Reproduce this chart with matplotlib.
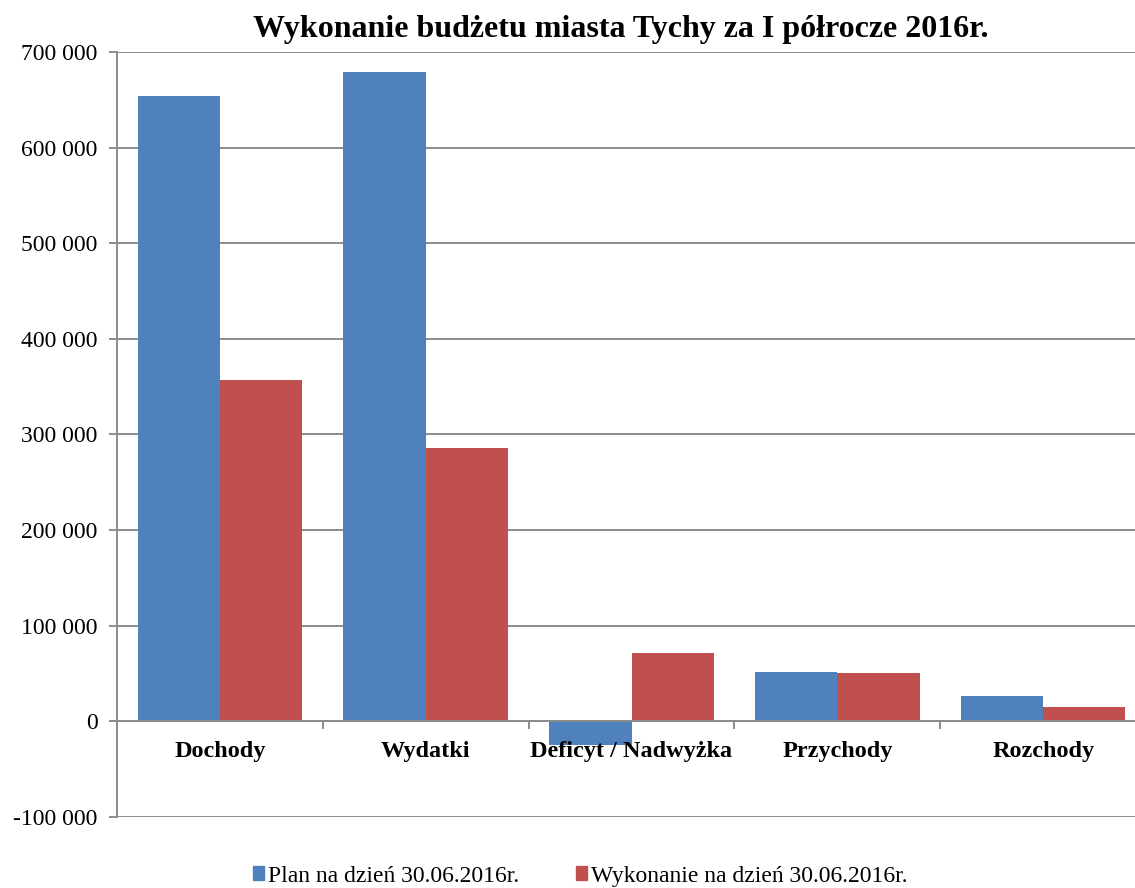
import numpy as np
import matplotlib.pyplot as plt
from matplotlib.ticker import FuncFormatter
from matplotlib.patches import Patch

plt.rcParams['font.family'] = ['Liberation Serif', 'DejaVu Serif']

categories = ['Dochody', 'Wydatki', 'Deficyt / Nadwyżka', 'Przychody', 'Rozchody']
plan = [654000, 679000, -24700, 51700, 26600]
wykonanie = [357000, 286000, 71200, 51000, 15100]
series_names = ['Plan na dzień 30.06.2016r.', 'Wykonanie na dzień 30.06.2016r.']
yticks = np.arange(-100000, 700001, 100000)

blue = '#4F81BD'
red = '#C0504D'
grid_col = '#8C8C8C'

fig = plt.figure(figsize=(11.35, 8.88), dpi=100)
ax = fig.add_axes([117 / 1135, 1 - 817 / 888, (1146 - 117) / 1135, (817 - 52) / 888])
ax.set_axisbelow(True)

x = np.arange(len(categories))
w = 0.4
ax.bar(x - w / 2, plan, w, color=blue, zorder=3)
ax.bar(x + w / 2, wykonanie, w, color=red, zorder=3)

ax.set_xlim(-0.5, len(categories) - 0.5)
ax.set_ylim(-100000, 700000)
ax.set_yticks(yticks)
ax.yaxis.set_major_formatter(FuncFormatter(lambda v, p: f'{int(v):,}'.replace(',', ' ')))
ax.yaxis.grid(True, color=grid_col, linewidth=1.4)

ax.set_xticks(np.arange(-0.5, len(categories), 1.0))
ax.set_xticklabels([])
ax.tick_params(axis='x', length=6, width=1.4, color=grid_col, direction='out')
ax.tick_params(axis='y', length=6, width=1.4, color=grid_col, labelsize=17, pad=8)

# category labels drawn as text so they sit above the bars
for i, name in enumerate(categories):
    ax.annotate(name, xy=(i, 0), xytext=(0, -22), textcoords='offset points',
                ha='center', va='center', fontsize=17.5, fontweight='bold', zorder=6)

for s in ['top', 'right']:
    ax.spines[s].set_visible(False)
ax.spines['bottom'].set_position(('data', 0))
ax.spines['bottom'].set_color(grid_col)
ax.spines['bottom'].set_linewidth(1.4)
ax.spines['bottom'].set_zorder(4)
ax.spines['left'].set_color(grid_col)
ax.spines['left'].set_linewidth(1.4)

fig.text(621 / 1135, 1 - 30 / 888, 'Wykonanie budżetu miasta Tychy za I półrocze 2016r.',
         ha='center', va='center', fontsize=23, fontweight='bold')

handles = [Patch(color=blue), Patch(color=red)]
fig.legend(handles, series_names, loc='center', bbox_to_anchor=(580 / 1135, 1 - 876 / 888),
           ncol=2, frameon=False, fontsize=17, handlelength=0.5, handleheight=0.5,
           handletextpad=0.15, columnspacing=2.4)

fig.savefig('out.png', dpi=100)
